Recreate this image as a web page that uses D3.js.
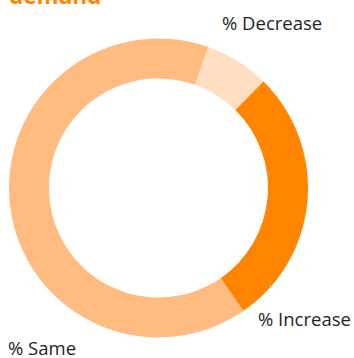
<!DOCTYPE html>
<html>
<head>
<meta charset="utf-8">
<script src="https://cdn.jsdelivr.net/npm/d3@7"></script>
<style>
  html, body { margin: 0; padding: 0; background: #fff; }
  svg { display: block; }
</style>
</head>
<body>
<svg id="chart" width="354" height="358"></svg>
<script>
// Share of responses by change in demand
const categories = ["% Decrease", "% Increase", "% Same"];
const values = [7, 28, 65];
const colors = ["#FFDEC2", "#FF8500", "#FFBB80"];

const svg = d3.select("#chart");
const cx = 158.5, cy = 188;
const outerR = 149.5, innerR = 109.5;
const startDeg = 19.4;

// Title (last line visible at the top)
svg.append("text")
  .attr("x", 9)
  .attr("y", 4)
  .attr("font-family", "'Open Sans', sans-serif")
  .attr("font-weight", 700)
  .attr("font-size", 22.5)
  .attr("fill", "#FF8500")
  .text("demand");

const pie = d3.pie()
  .sort(null)
  .value(d => d)
  .startAngle(startDeg * Math.PI / 180)
  .endAngle((startDeg + 360) * Math.PI / 180);

const arc = d3.arc().innerRadius(innerR).outerRadius(outerR);

const g = svg.append("g").attr("transform", `translate(${cx},${cy})`);
g.selectAll("path")
  .data(pie(values))
  .join("path")
  .attr("d", arc)
  .attr("fill", (d, i) => colors[i]);

// Slice labels
const labelPos = [
  { x: 222, y: 30 },
  { x: 258, y: 326 },
  { x: 8, y: 354.5 }
];
svg.selectAll("text.lbl")
  .data(categories)
  .join("text")
  .attr("class", "lbl")
  .attr("x", (d, i) => labelPos[i].x)
  .attr("y", (d, i) => labelPos[i].y)
  .attr("font-family", "'Open Sans', sans-serif")
  .attr("font-size", 18.5)
  .attr("fill", "#231F20")
  .text(d => d);
</script>
</body>
</html>
